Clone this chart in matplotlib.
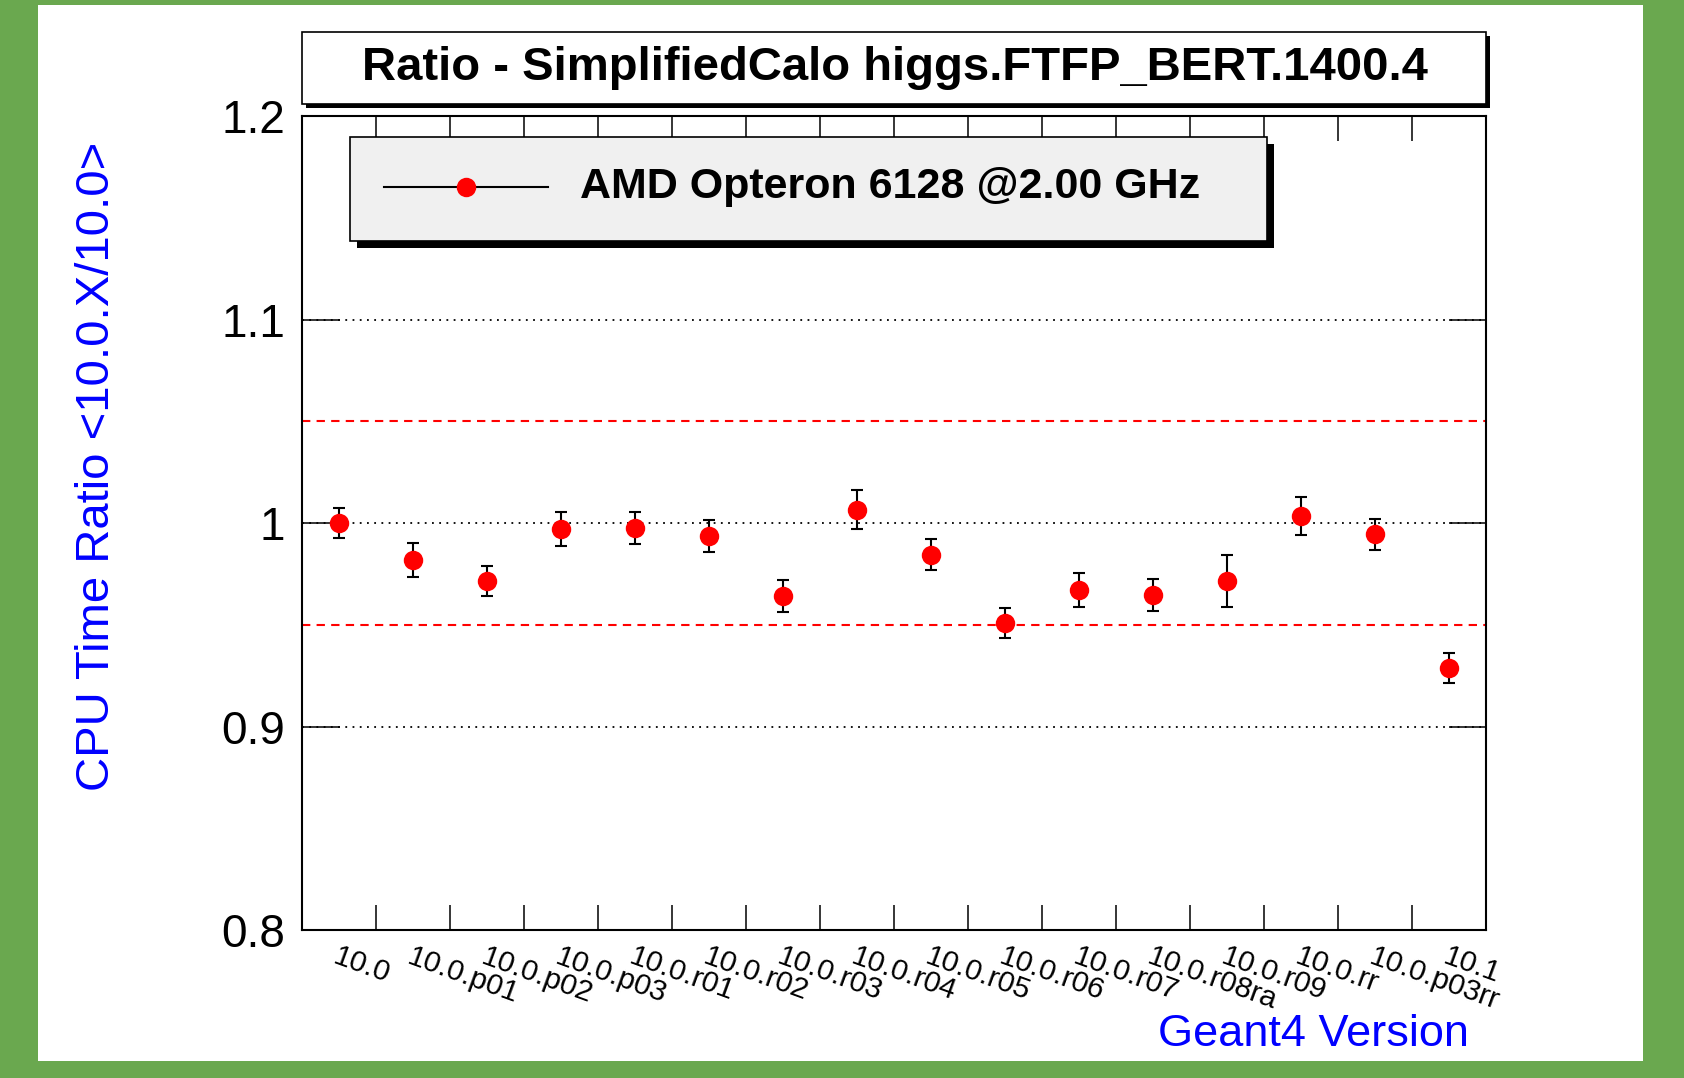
import numpy as np
import matplotlib.pyplot as plt
from matplotlib.patches import Rectangle

plt.rcParams['font.family'] = ['Liberation Sans', 'DejaVu Sans']

# Geant4 versions and CPU time ratio w.r.t. 10.0
versions = ['10.0', '10.0.p01', '10.0.p02', '10.0.p03', '10.0.r01', '10.0.r02',
            '10.0.r03', '10.0.r04', '10.0.r05', '10.0.r06', '10.0.r07',
            '10.0.r08ra', '10.0.r09', '10.0.rr', '10.0.p03rr', '10.1']
ratio = [1.000, 0.982, 0.9715, 0.997, 0.9977, 0.9935, 0.964, 1.0065,
         0.9845, 0.951, 0.967, 0.9648, 0.9715, 1.0035, 0.9945, 0.9287]
ratio_err = [0.0072, 0.0083, 0.0073, 0.0084, 0.0078, 0.0079, 0.0079, 0.0095,
             0.0074, 0.0074, 0.0084, 0.0079, 0.0127, 0.0095, 0.0077, 0.0073]

W, H = 1684, 1078
fig = plt.figure(figsize=(W / 100, H / 100), dpi=100)
fig.patch.set_facecolor('#6aa84f')
fig.add_artist(Rectangle((38 / W, 1 - 1061 / H), (1643 - 38) / W, (1061 - 5) / H,
                         transform=fig.transFigure, facecolor='white',
                         edgecolor='none', zorder=0))

ax = fig.add_axes([302 / W, 148 / H, 1184 / W, 814 / H])
x = np.arange(len(versions))

# reference lines
for yv in [0.9, 1.0, 1.1]:
    ax.axhline(yv, color='black', lw=1.3, ls=(0, (1, 3)), zorder=1)
for yv in [0.95, 1.05]:
    ax.axhline(yv, color='red', lw=1.5, ls=(0, (4, 3)), zorder=1)

ax.errorbar(x, ratio, yerr=ratio_err, fmt='none', ecolor='black',
            elinewidth=1.5, capsize=4.5, capthick=1.5, zorder=3)
ax.plot(x, ratio, 'o', color='red', markersize=14, markeredgewidth=0, zorder=4)

ax.set_xlim(-0.5, len(versions) - 0.5)
ax.set_ylim(0.8, 1.2)

# y axis: long inward ticks both sides
ax.set_yticks([0.8, 0.9, 1.0, 1.1, 1.2])
ax.set_yticklabels(['0.8', '0.9', '1', '1.1', '1.2'])
ax.tick_params(axis='y', which='major', direction='in', length=27, width=1.1,
               left=True, right=True, labelsize=33, pad=12)

# x axis: ticks at bin edges, labels at bin centres
ax.set_xticks(x[:-1] + 0.5, minor=True)
ax.set_xticks(x)
ax.set_xticklabels(versions, rotation=-20, ha='left', va='top',
                   rotation_mode='anchor', fontsize=21.5)
ax.tick_params(axis='x', which='major', length=0, pad=9)
ax.tick_params(axis='x', which='minor', direction='in', length=18, width=1.1,
               top=True, bottom=True)
for sp in ax.spines.values():
    sp.set_linewidth(1.5)

# legend box with shadow
lx0, lx1, ly0, ly1 = 0.0405, 0.815, 0.846, 0.974
ax.add_patch(Rectangle((lx0 + 0.0059, ly0 - 0.0086), lx1 - lx0, ly1 - ly0,
                       transform=ax.transAxes, facecolor='black', edgecolor='none',
                       zorder=5, clip_on=False))
ax.add_patch(Rectangle((lx0, ly0), lx1 - lx0, ly1 - ly0, transform=ax.transAxes,
                       facecolor='#f0f0f0', edgecolor='black', lw=1.2,
                       zorder=6, clip_on=False))
ax.plot([0.0693, 0.2078], [0.9128, 0.9128], color='black', lw=1.5,
        transform=ax.transAxes, zorder=7, clip_on=False)
ax.plot([0.1385], [0.9128], 'o', color='red', markersize=14, markeredgewidth=0,
        transform=ax.transAxes, zorder=8, clip_on=False)
ax.text(0.2348, 0.9128, 'AMD Opteron 6128 @2.00 GHz', transform=ax.transAxes,
        fontsize=31, fontweight='bold', ha='left', va='center', zorder=8)

# title box with shadow
tx0, tx1, ty0, ty1 = 302 / W, 1486 / W, 1 - 104 / H, 1 - 32 / H
fig.add_artist(Rectangle((tx0 + 4 / W, ty0 - 4 / H), tx1 - tx0, ty1 - ty0,
                         transform=fig.transFigure, facecolor='black',
                         edgecolor='none', zorder=2))
fig.add_artist(Rectangle((tx0, ty0), tx1 - tx0, ty1 - ty0, transform=fig.transFigure,
                         facecolor='white', edgecolor='black', lw=1.2, zorder=3))
fig.text(895 / W, 1 - 68 / H, 'Ratio - SimplifiedCalo higgs.FTFP_BERT.1400.4',
         fontsize=34, fontweight='bold', ha='center', va='center', zorder=4)

fig.text(97 / W, 1 - 466 / H, 'CPU Time Ratio <10.0.X/10.0>', color='blue',
         fontsize=34, rotation=90, ha='center', va='center')
fig.text(1469 / W, 1 - 1034 / H, 'Geant4 Version', color='blue', fontsize=32.5,
         ha='right', va='center')

fig.savefig('out.png', dpi=100, facecolor=fig.get_facecolor())
